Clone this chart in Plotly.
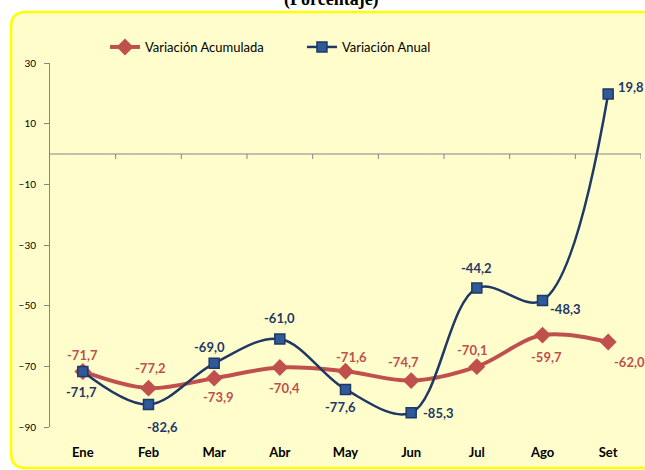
import plotly.graph_objects as go

months = ["Ene", "Feb", "Mar", "Abr", "May", "Jun", "Jul", "Ago", "Set"]
var_acumulada = [-71.7, -77.2, -73.9, -70.4, -71.6, -74.7, -70.1, -59.7, -62.0]
var_anual = [-71.7, -82.6, -69.0, -61.0, -77.6, -85.3, -44.2, -48.3, 19.8]
y_ticks = [30, 10, -10, -30, -50, -70, -90]

# label placement (pixel offsets from the point: anchor, dx, dy-down)
acum_lbl = [("center", 0, 16), ("center", 2, 20), ("center", 4, -19), ("center", 5, -20),
            ("center", 6, 14), ("center", -8, 19), ("center", -4, 17), ("center", 4, -22),
            ("left", 4, -20)]
anual_lbl = [("center", -1, -21), ("center", 14, -22), ("center", -5, 16), ("center", 0, 21),
             ("center", -5, -18), ("left", 10, 0), ("center", 0, 20), ("left", 5, -8),
             ("left", 8, 7)]

def fmt(v):
    return f"{v:.1f}".replace(".", ",")

RED = "#C0504D"
NAVY = "#1F3864"
FONT = "Lato"

fig = go.Figure()
fig.add_trace(go.Scatter(
    x=months, y=var_acumulada, name="Variación Acumulada",
    mode="lines+markers",
    line=dict(color=RED, width=4, shape="spline", smoothing=1.0),
    marker=dict(symbol="diamond", size=13, color=RED),
))
fig.add_trace(go.Scatter(
    x=months, y=var_anual, name="Variación Anual",
    mode="lines+markers",
    line=dict(color=NAVY, width=2.5, shape="spline", smoothing=1.0),
    marker=dict(symbol="square", size=10, color="#2E5A9A", line=dict(color=NAVY, width=1.5)),
))

# plot area pixel geometry
L, R, T, B = 50, 4, 63, 43
W, H = 645, 470
pw, ph = W - L - R, H - T - B
def px(xp): return (xp - L) / pw
def py(yp): return (H - B - yp) / ph

x0, x1 = px(11), px(660)
y0, y1 = py(468), py(12)
rx, ry = 15 / pw, 15 / ph
path = (f"M {x0+rx},{y1} L {x1},{y1} L {x1},{y0} L {x0+rx},{y0} "
        f"Q {x0},{y0} {x0},{y0+ry} L {x0},{y1-ry} Q {x0},{y1} {x0+rx},{y1} Z")
shapes = [dict(type="path", path=path, xref="paper", yref="paper",
               fillcolor="#FFFDCC", line=dict(color="#FFFF00", width=2.5), layer="below")]
# horizontal axis line at zero
shapes.append(dict(type="line", xref="paper", yref="y", x0=0, x1=1, y0=0, y1=0,
                   line=dict(color="#868686", width=1), layer="below"))
for i in range(1, len(months) + 1):
    shapes.append(dict(type="line", xref="x", yref="paper", x0=i - 0.5, x1=i - 0.5,
                       y0=py(154), y1=py(159), line=dict(color="#868686", width=1), layer="below"))

annotations = [dict(text="<b>(Porcentaje)</b>", xref="paper", yref="paper",
                    x=px(331), y=py(0), xanchor="center", yanchor="middle",
                    showarrow=False, font=dict(family="Liberation Serif", size=18, color="black"))]

for values, lbls, color in ((var_acumulada, acum_lbl, RED), (var_anual, anual_lbl, NAVY)):
    for m, v, (anc, dx, dy) in zip(months, values, lbls):
        annotations.append(dict(text=f"<b>{fmt(v)}</b>", x=m, y=v, xref="x", yref="y",
                                xanchor=anc, yanchor="middle", xshift=dx, yshift=dy,
                                showarrow=False, font=dict(color=color, size=13, family=FONT)))

fig.update_layout(
    width=W, height=H,
    margin=dict(l=L, r=R, t=T, b=B),
    paper_bgcolor="white", plot_bgcolor="rgba(0,0,0,0)",
    font=dict(family=FONT, color="black"),
    shapes=shapes,
    showlegend=True,
    legend=dict(orientation="h", x=0.093, y=py(47), yanchor="middle", xanchor="left",
                font=dict(size=13, family=FONT), bgcolor="rgba(0,0,0,0)",
                entrywidth=152, itemwidth=30),
    separators=",.",
    annotations=annotations,
)
fig.update_xaxes(
    range=[-0.5, len(months) - 0.5], showgrid=False, zeroline=False, showline=False,
    ticks="", tickfont=dict(size=13, family=FONT, weight="bold"), ticklabelstandoff=16,
    automargin=False,
)
fig.update_yaxes(
    range=[-90, 30], tickvals=y_ticks, showgrid=False, zeroline=False,
    showline=True, linecolor="#868686", linewidth=1, ticks="outside", ticklen=5,
    tickcolor="#868686", tickfont=dict(size=10, family=FONT), ticklabelstandoff=6,
    automargin=False,
)
fig.write_html("out.html", config={"displayModeBar": False})

with open("out.html", encoding="utf-8") as f:
    html = f.read()
html = html.replace("<head>", "<head><style>html,body{margin:0;padding:0;overflow:hidden;}</style>", 1)
with open("out.html", "w", encoding="utf-8") as f:
    f.write(html)
